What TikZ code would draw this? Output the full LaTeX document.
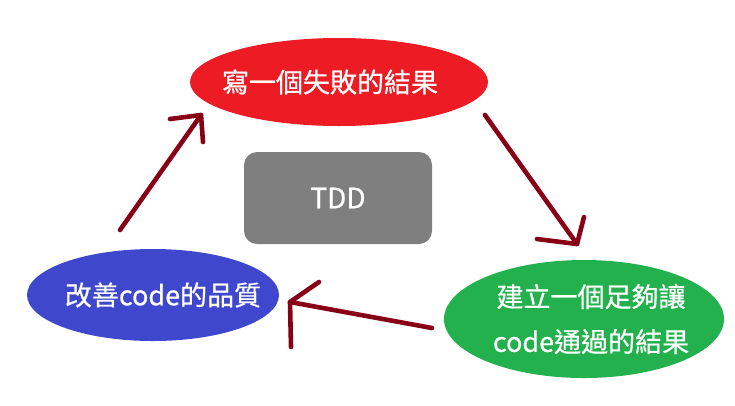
\documentclass[tikz,border=0pt]{standalone}
\usepackage{fontspec}
\newfontfamily\cjk[FakeBold=0.6]{Noto Sans CJK TC}
\usetikzlibrary{shapes.geometric}
\definecolor{failred}{HTML}{ED1C24}
\definecolor{passgreen}{HTML}{22B14C}
\definecolor{refblue}{HTML}{3F48CC}
\definecolor{hubgray}{HTML}{7F7F7F}
\definecolor{flowred}{HTML}{880015}

\begin{document}
\begin{tikzpicture}[x=1pt,y=-1pt,
  bubble/.style={ellipse,inner sep=-40pt,text=white,align=center,
    font=\cjk\fontsize{27}{45}\selectfont},
  flow/.style={line width=4.6pt,flowred,line cap=round,line join=round}]
  \useasboundingbox (0,0) rectangle (735,405);
  % the three steps of the cycle
  \node[bubble,fill=failred,minimum width=298pt,minimum height=88pt] (fail) at (339,82) {寫一個失敗的結果\hspace*{18pt}};
  \node[bubble,fill=passgreen,minimum width=280pt,minimum height=118pt] (pass) at (584,319) {\hspace*{14pt}建立一個足夠讓\\\hspace*{14pt}code通過的結果};
  \node[bubble,fill=refblue,minimum width=252pt,minimum height=92pt] (refactor) at (153,295) {\hspace*{20pt}改善code的品質};
  \node[fill=hubgray,rounded corners=13pt,minimum width=188pt,minimum height=92pt,text=white,
    font=\cjk\fontsize{28}{30}\selectfont] (tdd) at (338,198) {TDD};
  % hand drawn arrows
  \coordinate (s1) at (120,230); \coordinate (e1) at (201,115);
  \coordinate (s2) at (485,115); \coordinate (e2) at (577,244);
  \coordinate (s3) at (432,328); \coordinate (e3) at (290,302);
  \draw[flow] (s1) -- (e1);
  \draw[flow] (170,119) -- (e1) -- (203,142);
  \draw[flow] (s2) -- (e2);
  \draw[flow] (537,239) -- (e2) -- (584,217);
  \draw[flow] (s3) -- (e3);
  \draw[flow] (319,282) -- (e3) -- (291,347);
\end{tikzpicture}
\end{document}
